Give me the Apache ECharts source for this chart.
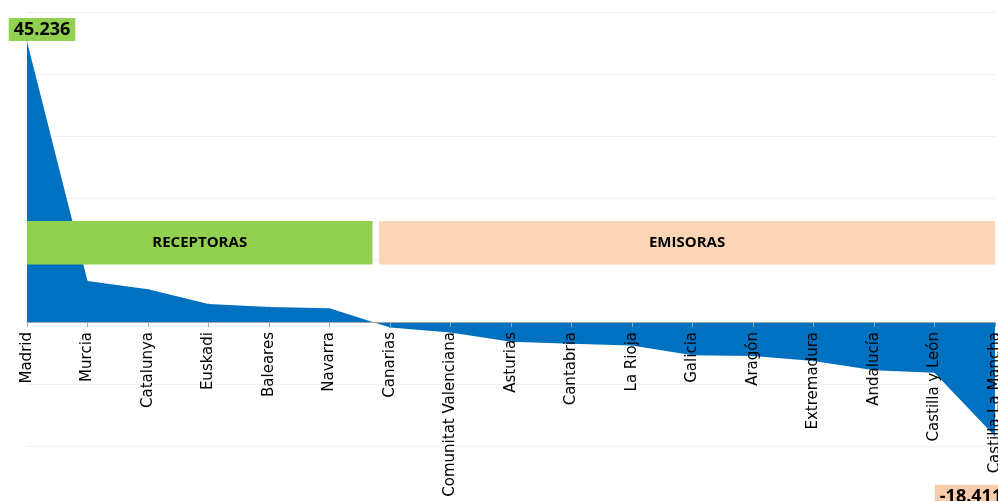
<!DOCTYPE html>
<html>
<head>
<meta charset="utf-8">
<script src="https://cdn.jsdelivr.net/npm/echarts@6/dist/echarts.min.js"></script>
<style>html,body{margin:0;padding:0;background:#fff;}#c{width:998px;height:501px;}</style>
</head>
<body>
<div id="c"></div>
<script>
var categories = ['Madrid','Murcia','Catalunya','Euskadi','Baleares','Navarra','Canarias','Comunitat Valenciana','Asturias','Cantabria','La Rioja','Galicia','Aragón','Extremadura','Andalucía','Castilla y León','Castilla-La Mancha'];
var values = [45.236, 6.6, 5.3, 2.9, 2.4, 2.2, -0.9, -1.7, -3.2, -3.5, -3.8, -5.35, -5.5, -6.3, -7.8, -8.2, -18.411];
var groupNames = ['RECEPTORAS', 'EMISORAS'];

var Y_MIN = -20, Y_MAX = 50;
var GRID = { left: 27, right: 3, top: 12, bottom: 55 };
var H = 501;
var gridH = H - GRID.top - GRID.bottom;
var zeroOffset = -gridH * (0 - Y_MIN) / (Y_MAX - Y_MIN);

var chart = echarts.init(document.getElementById('c'));
var lastIdx = values.length - 1;
var labelBase = { show: true, distance: 0, color: '#000', fontWeight: 'bold', fontSize: 18,
  fontFamily: 'Open Sans', padding: [3, 5, 2, 5],
  formatter: function (p) { return String(p.value); } };
var seriesData = values.map(function (v, i) {
  if (i === 0) {
    return { value: v, label: Object.assign({}, labelBase, { position: 'top', backgroundColor: '#92D050' }) };
  }
  if (i === lastIdx) {
    return { value: v, label: Object.assign({}, labelBase, { position: 'bottom', backgroundColor: '#F8CBAD' }) };
  }
  return v;
});

chart.setOption({
  animation: false,
  grid: { left: GRID.left, right: GRID.right, top: GRID.top, bottom: GRID.bottom, containLabel: false, outerBoundsMode: 'none' },
  xAxis: [{
    type: 'category',
    data: categories,
    boundaryGap: false,
    offset: zeroOffset,
    z: 6,
    axisLine: { onZero: false, lineStyle: { color: '#a6a6a6', width: 1 } },
    axisTick: { show: true, length: 5, lineStyle: { color: '#a6a6a6' } },
    axisLabel: { rotate: 90, color: '#000', fontSize: 15, fontFamily: 'DejaVu Sans', margin: 10, interval: 0 },
    splitLine: { show: false }
  }, {
    type: 'value', min: 0, max: 16, show: false
  }],
  yAxis: {
    type: 'value', min: Y_MIN, max: Y_MAX, interval: 10,
    axisLabel: { show: false }, axisLine: { show: false }, axisTick: { show: false },
    splitLine: { show: true, lineStyle: { color: '#efefef', width: 1 } }
  },
  series: [{
    type: 'line',
    data: seriesData,
    showSymbol: true,
    symbol: 'circle',
    symbolSize: 1,
    lineStyle: { width: 0 },
    itemStyle: { color: '#0070C0' },
    areaStyle: { color: '#0070C0', opacity: 1 },
    color: '#0070C0',
    labelLayout: function (p) {
      if (p.dataIndex === 0) return { dx: 15, hideOverlap: false };
      if (p.dataIndex === lastIdx) return { dx: -24, dy: 48, hideOverlap: false };
      return {};
    },
    z: 2
  }, {
    type: 'line',
    xAxisIndex: 1,
    data: [],
    z: 5,
    markArea: {
      silent: true,
      z: 10,
      label: { show: true, position: 'inside', color: '#000', fontWeight: 'bold', fontSize: 15, fontFamily: 'Open Sans' },
      data: [
        [{ name: groupNames[0], xAxis: 0, yAxis: 16.3, itemStyle: { color: '#92D050', opacity: 1 } }, { xAxis: 5.71, yAxis: 9.27 }],
        [{ name: groupNames[1], xAxis: 5.82, yAxis: 16.3, itemStyle: { color: '#FBD5B5', opacity: 1 } }, { xAxis: 16, yAxis: 9.27 }]
      ]
    }
  }]
});
</script>
</body>
</html>
